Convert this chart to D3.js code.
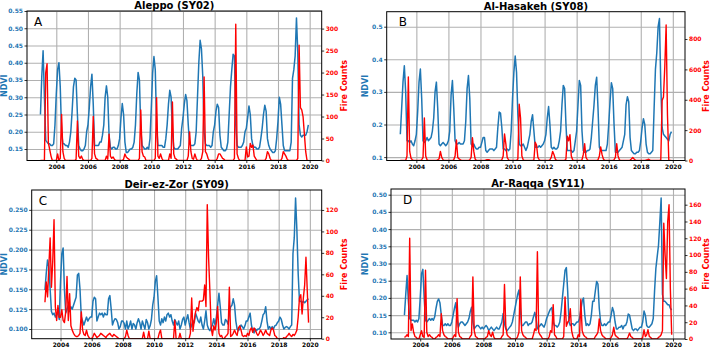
<!DOCTYPE html>
<html>
<head>
<meta charset="utf-8">
<script src="https://cdn.jsdelivr.net/npm/d3@7"></script>
<style>
body { margin: 0; background: #fff; }
text { font-family: "DejaVu Sans", sans-serif; }
</style>
</head>
<body>
<svg id="fig" width="710" height="348"></svg>
<script>
// ------------------------- data, monthly Jan 2003 .. Dec 2019
var startYear = 2003;
var yearTicks = [2004, 2006, 2008, 2010, 2012, 2014, 2016, 2018, 2020];

var aleppoNdvi = [
  .25,.36,.435,.30,.175,.17,.165,.165,.16,.16,.165,.22,
  .31,.38,.40,.33,.20,.165,.165,.16,.16,.155,.17,.20,
  .26,.33,.355,.35,.25,.16,.15,.145,.145,.15,.16,.20,
  .22,.27,.33,.367,.28,.16,.16,.16,.16,.17,.17,.19,
  .22,.30,.333,.30,.19,.155,.15,.155,.155,.15,.15,.16,
  .18,.24,.282,.25,.17,.14,.14,.145,.15,.15,.155,.17,
  .22,.31,.372,.35,.21,.16,.155,.15,.15,.155,.15,.18,
  .27,.37,.418,.38,.22,.16,.16,.16,.16,.155,.155,.18,
  .22,.28,.32,.30,.20,.155,.15,.15,.15,.155,.16,.21,
  .24,.28,.308,.29,.22,.165,.16,.16,.16,.165,.20,.30,
  .40,.465,.44,.36,.20,.165,.16,.16,.16,.155,.16,.20,
  .22,.26,.28,.27,.19,.155,.15,.145,.145,.15,.17,.25,
  .33,.38,.425,.42,.22,.16,.155,.155,.155,.16,.17,.20,
  .21,.24,.275,.25,.18,.16,.155,.155,.15,.15,.155,.18,
  .21,.25,.277,.26,.18,.16,.15,.145,.14,.14,.145,.18,
  .23,.30,.28,.22,.16,.145,.145,.145,.145,.145,.17,.355,
  .38,.42,.53,.43,.22,.19,.185,.19,.19,.19,.20,.22
];
var aleppoFire = [
  0,0,0,0,200,220,40,25,10,0,0,0,
  0,15,0,5,105,20,5,0,0,0,0,0,
  0,0,0,3,90,10,5,10,3,0,0,0,
  0,0,0,5,100,15,5,3,0,0,0,0,
  0,0,10,3,60,10,5,8,3,0,0,0,
  0,0,0,3,15,8,5,3,0,0,0,0,
  0,0,0,5,115,20,10,8,0,0,0,0,
  0,0,0,5,143,10,5,15,5,0,0,0,
  0,0,15,5,133,15,5,3,0,0,0,0,
  0,0,0,0,10,65,20,5,3,15,5,0,
  0,0,5,20,190,20,15,5,0,0,0,0,
  0,0,5,15,15,10,5,3,0,0,0,0,
  0,0,0,5,310,15,5,0,0,0,0,0,
  31,8,10,39,30,35,10,5,0,0,0,0,
  0,0,0,5,20,15,5,0,0,0,0,0,
  0,0,0,5,20,15,10,3,0,0,0,0,
  0,0,0,5,262,120,115,100,60,20,0,0
];

var hasakehNdvi = [
  .17,.25,.33,.38,.30,.15,.15,.145,.15,.14,.135,.15,
  .17,.24,.33,.37,.28,.15,.145,.15,.16,.15,.155,.16,
  .18,.22,.30,.33,.25,.14,.135,.14,.145,.14,.135,.14,
  .15,.18,.29,.335,.25,.15,.14,.14,.145,.14,.14,.14,
  .15,.21,.31,.35,.28,.14,.135,.14,.13,.125,.125,.13,
  .13,.145,.16,.16,.12,.115,.12,.125,.125,.125,.12,.125,
  .13,.19,.238,.235,.19,.125,.125,.12,.125,.12,.125,.18,
  .28,.36,.41,.36,.23,.14,.135,.135,.14,.13,.12,.13,
  .15,.17,.21,.23,.18,.13,.13,.13,.135,.13,.135,.14,
  .15,.17,.22,.255,.20,.13,.125,.13,.125,.125,.13,.15,
  .18,.26,.32,.31,.20,.12,.12,.12,.12,.115,.12,.15,
  .18,.26,.335,.32,.18,.12,.115,.115,.12,.12,.125,.16,
  .21,.26,.32,.345,.25,.13,.12,.12,.12,.12,.12,.14,
  .20,.27,.328,.31,.20,.115,.115,.115,.12,.125,.13,.15,
  .17,.26,.285,.27,.16,.12,.115,.11,.11,.115,.115,.12,
  .15,.19,.218,.20,.14,.115,.11,.11,.115,.12,.25,.37,
  .42,.50,.525,.32,.19,.17,.165,.16,.155,.15,.17,.178
];
var hasakehFire = [
  0,0,0,0,0,30,550,60,15,5,0,0,
  0,0,0,0,5,20,280,30,5,0,0,0,
  0,0,0,0,5,10,60,20,5,0,0,0,
  0,0,0,0,5,30,135,20,10,5,0,0,
  0,0,0,0,5,20,150,60,10,0,0,0,
  0,0,0,0,3,5,5,3,0,0,0,0,
  0,0,0,0,5,30,175,110,20,5,0,0,
  0,0,0,0,10,370,280,30,5,0,0,0,
  0,0,0,0,5,120,100,20,5,0,0,0,
  0,0,0,0,5,20,60,40,10,0,0,0,
  0,0,0,0,10,160,130,170,30,5,0,0,
  0,0,0,0,5,40,110,20,5,0,0,0,
  0,0,0,0,5,30,90,40,10,0,0,0,
  0,0,0,0,5,20,110,30,5,0,0,0,
  0,0,0,0,3,10,20,10,3,0,0,0,
  0,0,0,0,3,5,8,3,0,0,0,0,
  0,0,0,5,396,418,620,892,300,0,0,0
];

var deirNdvi = [
  .149,.17,.187,.178,.15,.122,.118,.12,.115,.118,.122,.112,
  .16,.195,.202,.15,.12,.125,.13,.122,.128,.125,.13,.135,
  .14,.168,.17,.15,.115,.11,.105,.11,.115,.11,.113,.115,
  .115,.135,.14,.138,.11,.115,.12,.118,.12,.115,.12,.118,
  .118,.138,.142,.125,.105,.11,.113,.112,.108,.10,.103,.11,
  .11,.107,.10,.11,.10,.104,.11,.10,.107,.105,.10,.108,
  .113,.108,.10,.11,.105,.10,.112,.108,.10,.104,.112,.13,
  .14,.16,.167,.14,.11,.105,.113,.108,.115,.11,.118,.12,
  .115,.118,.11,.105,.112,.108,.105,.11,.10,.105,.112,.115,
  .105,.112,.118,.108,.10,.105,.11,.108,.12,.115,.11,.108,
  .115,.105,.10,.11,.123,.105,.10,.098,.102,.105,.113,.105,
  .115,.13,.145,.128,.108,.105,.105,.112,.11,.106,.12,.128,
  .13,.138,.13,.11,.10,.098,.10,.105,.103,.10,.104,.11,
  .11,.115,.12,.105,.098,.095,.10,.098,.10,.10,.103,.11,
  .118,.12,.128,.11,.10,.103,.10,.103,.10,.104,.105,.108,
  .11,.115,.112,.105,.10,.102,.103,.102,.10,.103,.105,.195,
  .215,.265,.225,.17,.135,.135,.133,.135,.133,.135,.137,.138
];
var deirFire = [
  34,53,39,67,94,48,72,111,30,17,31,20,
  20,27,17,15,25,58,17,42,12,8,5,3,
  2,2,3,5,25,8,4,3,8,3,1,0,
  0,2,5,3,1,2,3,5,4,3,2,1,
  3,4,5,3,2,4,3,2,1,0,0,0,
  0,0,2,8,3,0,0,0,0,0,0,0,
  0,0,0,0,6,0,0,0,7,0,0,0,
  0,0,0,0,5,8,0,0,0,0,0,0,
  0,0,0,0,17,0,0,0,5,0,0,0,
  0,0,0,0,5,38,7,17,25,29,26,35,
  35,35,36,50,30,125,76,45,10,3,12,8,
  15,30,5,2,3,0,0,2,3,5,48,2,
  3,5,8,5,3,10,12,8,3,2,3,2,
  5,3,8,10,6,10,8,5,3,5,8,6,
  3,5,8,5,4,3,8,10,8,3,2,0,
  0,0,0,0,1,0,2,3,5,3,2,4,
  3,5,8,20,38,41,23,38,50,76,45,15
];

var raqqaNdvi = [
  .15,.21,.265,.19,.14,.135,.135,.135,.13,.135,.13,.14,
  .20,.27,.283,.20,.135,.13,.135,.14,.135,.14,.135,.145,
  .17,.19,.197,.185,.15,.12,.12,.125,.12,.125,.12,.12,
  .13,.15,.17,.186,.14,.115,.125,.13,.13,.125,.12,.125,
  .13,.14,.16,.173,.13,.11,.115,.12,.12,.115,.11,.115,
  .11,.115,.12,.115,.105,.11,.115,.11,.105,.11,.115,.11,
  .11,.12,.13,.155,.125,.11,.105,.11,.115,.12,.13,.15,
  .17,.19,.21,.223,.17,.12,.12,.125,.13,.13,.12,.125,
  .125,.13,.145,.158,.14,.11,.115,.12,.125,.12,.115,.125,
  .14,.15,.16,.168,.172,.13,.12,.12,.115,.12,.13,.16,
  .20,.24,.28,.288,.22,.13,.12,.125,.125,.12,.125,.13,
  .13,.14,.165,.19,.20,.15,.12,.125,.12,.125,.15,.19,
  .19,.22,.248,.24,.17,.13,.12,.12,.125,.12,.125,.13,
  .13,.15,.172,.16,.13,.11,.11,.115,.115,.12,.11,.12,
  .12,.13,.153,.15,.13,.11,.105,.11,.11,.105,.11,.115,
  .115,.13,.162,.15,.12,.115,.115,.12,.125,.14,.22,.286,
  .32,.353,.42,.49,.21,.19,.19,.185,.18,.18,.17,.165
];
var raqqaFire = [
  2,3,5,3,120,10,18,8,3,2,0,0,
  5,10,3,2,82,8,3,5,3,2,0,0,
  2,3,5,3,30,10,5,3,2,0,0,0,
  0,2,5,3,48,8,3,2,0,0,0,0,
  0,0,3,5,74,10,3,2,0,0,0,0,
  0,0,2,3,10,5,3,8,2,0,0,0,
  0,0,3,5,65,15,5,3,2,0,0,0,
  0,0,3,8,74,10,5,3,2,0,0,0,
  0,0,5,12,10,104,8,5,3,0,0,0,
  0,0,3,10,8,41,5,3,0,0,0,0,
  0,3,50,15,20,22,36,10,3,0,0,0,
  5,3,47,10,5,3,2,0,0,0,0,0,
  0,3,5,8,24,10,5,3,2,0,0,0,
  0,2,5,14,5,3,2,0,0,0,0,0,
  0,0,3,7,3,2,0,0,0,0,0,0,
  0,2,11,3,5,11,3,2,0,0,0,0,
  0,2,3,5,10,138,100,72,140,160,60,5
];

var aleppoNdviTicks = [0.15, 0.20, 0.25, 0.30, 0.35, 0.40, 0.45, 0.50, 0.55];
var aleppoFireTicks = [0, 50, 100, 150, 200, 250, 300];
var hasakehNdviTicks = [0.1, 0.2, 0.3, 0.4, 0.5];
var hasakehFireTicks = [0, 200, 400, 600, 800];
var deirNdviTicks = [0.100, 0.125, 0.150, 0.175, 0.200, 0.225, 0.250];
var deirFireTicks = [0, 20, 40, 60, 80, 100, 120];
var raqqaNdviTicks = [0.10, 0.15, 0.20, 0.25, 0.30, 0.35, 0.40, 0.45, 0.50];
var raqqaFireTicks = [0, 20, 40, 60, 80, 100, 120, 140, 160];

// ------------------------- layout
var blue = "#1f77b4", red = "#ff0000", gridCol = "#b0b0b0";

var panels = [
  { title: "Aleppo (SY02)", letter: "A", ndvi: aleppoNdvi, fire: aleppoFire,
    l: 27, t: 11, r: 321.7, b: 160.5, nd: [0.1167, 0.55], fd: [0, 340],
    nt: aleppoNdviTicks, ft: aleppoFireTicks, fmt: ".2f", nlx: 4, flx: 344 },
  { title: "Al-Hasakeh (SY08)", letter: "B", ndvi: hasakehNdvi, fire: hasakehFire,
    l: 386.7, t: 11.7, r: 685, b: 160.5, nd: [0.0896, 0.546], fd: [0, 980],
    nt: hasakehNdviTicks, ft: hasakehFireTicks, fmt: ".1f", nlx: 365, flx: 706 },
  { title: "Deir-ez-Zor (SY09)", letter: "C", ndvi: deirNdvi, fire: deirFire,
    l: 31.7, t: 190, r: 321.7, b: 338.7, nd: [0.0878, 0.275], fd: [0, 138.6],
    nt: deirNdviTicks, ft: deirFireTicks, fmt: ".3f", nlx: 4, flx: 344 },
  { title: "Ar-Raqqa (SY11)", letter: "D", ndvi: raqqaNdvi, fire: raqqaFire,
    l: 391, t: 189, r: 685, b: 339, nd: [0.0806, 0.5165], fd: [0, 178.7],
    nt: raqqaNdviTicks, ft: raqqaFireTicks, fmt: ".2f", nlx: 365.5, flx: 706 }
];

var svg = d3.select("#fig");

panels.forEach(function(p, k) {
    var x = d3.scaleLinear().domain([2002.15, 2020.76]).range([p.l, p.r]);
    var yN = d3.scaleLinear().domain(p.nd).range([p.b, p.t]);
    var yF = d3.scaleLinear().domain(p.fd).range([p.b, p.t]);
    var w = p.r - p.l, h = p.b - p.t;
    var g = svg.append("g");

    g.append("clipPath").attr("id", "clip" + k)
        .append("rect").attr("x", p.l).attr("y", p.t).attr("width", w).attr("height", h);

    // grid
    g.append("g").attr("transform", "translate(0," + p.b + ")")
        .call(d3.axisBottom(x).tickValues(yearTicks).tickSize(-h).tickFormat(""))
        .call(s => s.select(".domain").remove())
        .selectAll("line").attr("stroke", gridCol).attr("stroke-width", 1.1);
    g.append("g").attr("transform", "translate(" + p.l + ",0)")
        .call(d3.axisLeft(yN).tickValues(p.nt).tickSize(-w).tickFormat(""))
        .call(s => s.select(".domain").remove())
        .selectAll("line").attr("stroke", gridCol).attr("stroke-width", 1.1);

    var t = function(d, i) { return startYear + i / 12; };
    var lineN = d3.line().x(function(d, i) { return x(t(d, i)); }).y(function(d) { return yN(d); });
    var lineF = d3.line().x(function(d, i) { return x(t(d, i)); }).y(function(d) { return yF(d); });

    g.append("path").datum(p.ndvi).attr("d", lineN).attr("clip-path", "url(#clip" + k + ")")
        .attr("fill", "none").attr("stroke", blue).attr("stroke-width", 1.5).attr("stroke-linejoin", "round");
    g.append("path").datum(p.fire).attr("d", lineF).attr("clip-path", "url(#clip" + k + ")")
        .attr("fill", "none").attr("stroke", red).attr("stroke-width", 1.4).attr("stroke-linejoin", "round");

    // axes
    var ax = g.append("g").attr("transform", "translate(0," + p.b + ")")
        .call(d3.axisBottom(x).tickValues(yearTicks).tickSize(2.5).tickPadding(1.5).tickFormat(d3.format("d")));
    ax.selectAll("text").attr("fill", "#000");
    var al = g.append("g").attr("transform", "translate(" + p.l + ",0)")
        .call(d3.axisLeft(yN).tickValues(p.nt).tickSize(2.5).tickPadding(1.5).tickFormat(d3.format(p.fmt)));
    al.selectAll("text").attr("fill", blue);
    var ar = g.append("g").attr("transform", "translate(" + p.r + ",0)")
        .call(d3.axisRight(yF).tickValues(p.ft).tickSize(2.5).tickPadding(1.5).tickFormat(d3.format("d")));
    ar.selectAll("text").attr("fill", red);
    [ax, al, ar].forEach(function(a) {
        a.select(".domain").remove();
        a.selectAll("line").attr("stroke", "#000").attr("stroke-width", 0.8);
        a.selectAll("text").style("font-size", "6px").style("font-weight", "bold")
            .style("font-family", "DejaVu Sans");
    });

    // frame
    g.append("rect").attr("x", p.l).attr("y", p.t).attr("width", w).attr("height", h)
        .attr("fill", "none").attr("stroke", "#000").attr("stroke-width", 1);

    // texts
    g.append("text").attr("x", (p.l + p.r) / 2).attr("y", p.t - 2)
        .attr("text-anchor", "middle").style("font-size", "10px").style("font-weight", "bold")
        .text(p.title);
    g.append("text").attr("x", p.l + (k % 2 ? 12 : 7)).attr("y", p.t + 14.5)
        .style("font-size", "12px").text(p.letter);
    g.append("text").attr("transform", "translate(" + p.nlx + "," + ((p.t + p.b) / 2) + ") rotate(-90)")
        .attr("text-anchor", "middle").attr("dy", "0.35em").attr("fill", blue)
        .style("font-size", "8px").style("font-weight", "bold").text("NDVI");
    g.append("text").attr("transform", "translate(" + p.flx + "," + ((p.t + p.b) / 2) + ") rotate(-90)")
        .attr("text-anchor", "middle").attr("dy", "0.35em").attr("fill", red)
        .style("font-size", "8px").style("font-weight", "bold").text("Fire Counts");
});
</script>
</body>
</html>
